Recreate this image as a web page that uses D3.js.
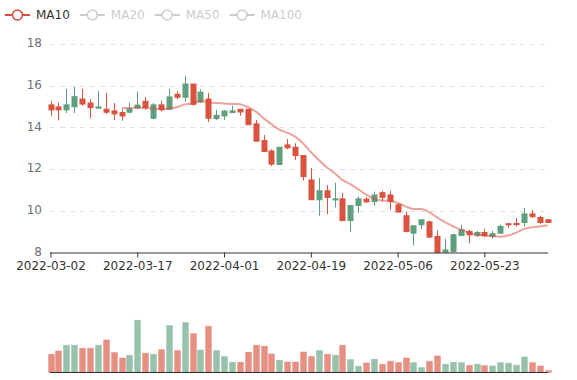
<!DOCTYPE html>
<html>
<head>
<meta charset="utf-8">
<script src="https://cdn.jsdelivr.net/npm/d3@7/dist/d3.min.js"></script>
<style>
	body { margin: 0; background: #fff; }
	svg { font-family: 'DejaVu Sans', sans-serif; display: block; }
</style>
</head>
<body>
<div id="chart"></div>
<script>
// ----------------------------------
// data
// ----------------------------------
const dates = [
	'2022-03-02','2022-03-03','2022-03-04','2022-03-07','2022-03-08','2022-03-09','2022-03-10','2022-03-11',
	'2022-03-14','2022-03-15','2022-03-16','2022-03-17','2022-03-18','2022-03-21','2022-03-22','2022-03-23',
	'2022-03-24','2022-03-25','2022-03-28','2022-03-29','2022-03-30','2022-03-31','2022-04-01','2022-04-04',
	'2022-04-05','2022-04-06','2022-04-07','2022-04-08','2022-04-11','2022-04-12','2022-04-13','2022-04-14',
	'2022-04-18','2022-04-19','2022-04-20','2022-04-21','2022-04-22','2022-04-25','2022-04-26','2022-04-27',
	'2022-04-28','2022-04-29','2022-05-04','2022-05-05','2022-05-06','2022-05-09','2022-05-10','2022-05-11',
	'2022-05-12','2022-05-13','2022-05-16','2022-05-17','2022-05-18','2022-05-19','2022-05-20','2022-05-23',
	'2022-05-24','2022-05-25','2022-05-26','2022-05-27','2022-05-30','2022-05-31','2022-06-01','2022-06-02'
];

const opens = [
	15.08,14.98,14.84,14.99,15.36,15.17,14.92,14.87,14.79,14.71,
	14.73,14.93,15.25,14.44,15.08,14.87,15.59,15.45,16.08,15.22,
	15.36,14.42,14.55,14.71,14.87,14.87,14.17,13.37,12.87,12.22,
	13.16,13.05,12.65,11.48,10.53,10.96,10.53,10.57,9.53,10.25,
	10.56,10.44,10.87,10.76,10.29,9.76,8.93,9.33,9.47,8.77,
	8.02,8.05,8.81,9.01,8.81,8.96,8.77,8.93,9.38,9.39,
	9.44,9.85,9.68,9.57
];

const closes = [
	14.84,14.84,15.08,15.47,15.12,14.95,14.98,14.73,14.65,14.55,
	14.89,15.07,14.95,15.08,14.85,15.46,15.45,16.08,15.11,15.69,
	14.44,14.58,14.78,14.79,14.74,14.13,13.34,12.84,12.24,13.05,
	13.02,12.65,11.64,10.53,10.96,10.64,10.57,9.53,10.25,10.57,
	10.43,10.76,10.65,10.44,9.94,9.01,9.28,9.57,8.74,8.00,
	8.12,8.85,9.09,8.85,8.96,8.80,8.90,9.25,9.33,9.34,
	9.85,9.72,9.44,9.44
];

const highs = [
	15.27,15.19,15.84,15.95,15.84,15.35,15.75,15.65,15.17,14.85,
	15.19,15.73,15.46,15.17,15.28,15.84,15.75,16.47,16.08,15.83,
	15.65,14.84,14.84,15.04,14.87,14.87,14.36,13.63,12.95,13.05,
	13.45,13.24,12.65,12.04,11.57,11.23,11.35,10.85,10.25,10.68,
	10.66,10.92,10.96,10.96,10.37,9.96,9.28,9.57,9.53,9.06,
	8.66,8.90,9.33,9.09,9.04,9.14,9.04,9.33,9.38,9.65,
	10.13,10.05,9.77,9.57
];

const lows = [
	14.56,14.34,14.68,14.68,15.04,14.45,14.92,14.65,14.36,14.32,
	14.68,14.87,14.84,14.39,14.76,14.84,15.35,15.24,15.04,15.16,
	14.25,14.34,14.36,14.71,14.56,14.13,13.34,12.84,12.15,12.20,
	12.95,12.44,11.45,10.53,9.76,9.84,10.16,9.53,8.98,9.89,
	10.37,10.25,10.44,10.05,9.94,8.96,8.34,9.14,8.69,8.00,
	8.00,8.02,8.81,8.45,8.74,8.74,8.66,8.90,9.17,9.25,
	9.25,9.65,9.38,9.44
];

const volumes = [
	18.3,21.6,27.3,27.3,24.3,24.3,27.3,32.6,20.0,14.6,
	17.3,52.3,19.3,18.3,23.0,47.0,22.0,50.0,39.0,22.6,
	46.3,22.0,16.0,10.3,10.3,20.3,27.3,26.3,18.6,12.3,
	10.6,10.6,20.6,16.0,22.0,18.3,17.3,27.3,13.0,6.3,
	9.6,13.3,8.3,11.3,10.0,14.6,10.0,5.0,11.3,16.6,
	8.3,10.3,10.0,7.3,8.3,7.0,6.6,10.0,9.3,7.3,
	15.6,10.0,6.6,2.0
];
// 1 = up (green), -1 = down (red)
const volumeDir = [
	-1,-1,1,1,-1,-1,1,-1,-1,-1,
	1,1,-1,1,-1,1,-1,1,-1,1,
	-1,1,1,1,-1,-1,-1,-1,-1,1,
	-1,-1,-1,-1,1,-1,1,-1,1,1,
	-1,1,-1,-1,-1,-1,1,1,-1,-1,
	1,1,1,-1,1,-1,1,1,1,1,
	1,-1,-1,-1
];

const yTicks = [8, 10, 12, 14, 16, 18];
const legendNames = ['MA10', 'MA20', 'MA50', 'MA100'];
const legendActive = ['MA10'];

// ----------------------------------
// setup
// ----------------------------------
const width = 577,
	height = 380,
	upColor = '#5f9f7e',
	downColor = '#d9533f',
	maColor = '#d94a3d';

const svg = d3.select('#chart')
	.append('svg')
	.attr('width', width)
	.attr('height', height);

const x = d3.scalePoint()
	.domain(dates)
	.range([50.5, 547.5]);

const y = d3.scaleLinear()
	.domain([8, 18])
	.range([252.5, 44]);

const yVol = d3.scaleLinear()
	.domain([0, 55])
	.range([372.5, 317.5]);

// moving average of the closes
function calculateMA(dayCount){
	const result = [];
	for (let i = 0; i < closes.length; i++){
		if (i < dayCount - 1){
			result.push(null);
			continue;
		}
		let sum = 0;
		for (let j = 0; j < dayCount; j++){
			sum += closes[i - j];
		}
		result.push(sum / dayCount);
	}
	return result;
}

// grid lines
svg.append('g')
	.classed('grid', true)
	.selectAll('line')
	.data(yTicks.filter(d => d > 8))
	.enter()
	.append('line')
	.attr('x1', 50)
	.attr('x2', 548)
	.attr('y1', d => Math.round(y(d)) + 0.5)
	.attr('y2', d => Math.round(y(d)) + 0.5)
	.style('stroke', '#e0e0e0')
	.style('stroke-width', 1)
	.style('stroke-dasharray', '5,5');

// y labels
svg.append('g')
	.classed('y-labels', true)
	.selectAll('text')
	.data(yTicks)
	.enter()
	.append('text')
	.attr('x', 42)
	.attr('y', d => y(d) - 1)
	.attr('dy', '0.35em')
	.attr('text-anchor', 'end')
	.style('font-size', '12px')
	.style('fill', '#6e7079')
	.text(d => d);

// clip for the candle grid
svg.append('clipPath')
	.attr('id', 'plot-clip')
	.append('rect')
	.attr('x', 44)
	.attr('y', 40)
	.attr('width', 510)
	.attr('height', 213);

const candles = svg.append('g')
	.classed('candles', true)
	.attr('clip-path', 'url(#plot-clip)');

const bodyWidth = 5;

const candle = candles.selectAll('g')
	.data(dates)
	.enter()
	.append('g');

candle.append('line')
	.attr('x1', d => Math.round(x(d)) + 0.5)
	.attr('x2', d => Math.round(x(d)) + 0.5)
	.attr('y1', (d, i) => y(highs[i]))
	.attr('y2', (d, i) => y(lows[i]))
	.style('stroke', (d, i) => closes[i] >= opens[i] ? upColor : downColor)
	.style('stroke-width', 1);

candle.append('rect')
	.attr('x', d => Math.round(x(d)) + 0.5 - bodyWidth / 2)
	.attr('y', (d, i) => y(Math.max(opens[i], closes[i])))
	.attr('width', bodyWidth)
	.attr('height', (d, i) => Math.max(1, Math.abs(y(opens[i]) - y(closes[i]))))
	.style('fill', (d, i) => closes[i] >= opens[i] ? upColor : downColor)
	.style('stroke', (d, i) => closes[i] >= opens[i] ? upColor : downColor)
	.style('stroke-width', 1);

// MA10 line
const ma10 = calculateMA(10);
const maLine = d3.line()
	.defined(d => d !== null)
	.x((d, i) => x(dates[i]))
	.y(d => y(d))
	.curve(d3.curveMonotoneX);

svg.append('path')
	.classed('ma-line', true)
	.datum(ma10)
	.attr('d', maLine)
	.style('fill', 'none')
	.style('stroke', maColor)
	.style('stroke-width', 2)
	.style('stroke-opacity', 0.5);

// x axis
const xAxis = d3.axisBottom(x)
	.tickValues(dates.filter((d, i) => i % 11 === 0))
	.tickSizeInner(5)
	.tickSizeOuter(0)
	.tickPadding(4);

const xAxisG = svg.append('g')
	.attr('class', 'x axis')
	.attr('transform', 'translate(0,252.5)')
	.call(xAxis);

xAxisG.select('.domain')
	.attr('d', 'M50,0.5H548')
	.style('stroke', '#333');
xAxisG.selectAll('.tick line').style('stroke', '#333');
xAxisG.selectAll('.tick text')
	.style('font-size', '12px')
	.style('font-family', "'DejaVu Sans', sans-serif")
	.style('fill', '#333');

// volume bars
const volWidth = 6;
svg.append('g')
	.classed('volume', true)
	.selectAll('rect')
	.data(volumes)
	.enter()
	.append('rect')
	.attr('x', (d, i) => Math.round(x(dates[i])) + 0.5 - volWidth / 2)
	.attr('y', d => yVol(d))
	.attr('width', volWidth)
	.attr('height', d => yVol(0) - yVol(d))
	.style('fill', (d, i) => volumeDir[i] > 0 ? upColor : downColor)
	.style('fill-opacity', 0.65)
	.style('stroke', (d, i) => volumeDir[i] > 0 ? upColor : downColor)
	.style('stroke-opacity', 0.2)
	.style('stroke-width', 1);

svg.append('line')
	.attr('x1', 50)
	.attr('x2', 548)
	.attr('y1', 372.5)
	.attr('y2', 372.5)
	.style('stroke', '#333')
	.style('stroke-width', 1);

// legend
const legend = svg.append('g').classed('legend', true);
let legendX = 5;
legendNames.forEach(name => {
	const active = legendActive.indexOf(name) > -1;
	const col = active ? maColor : '#ccc';
	const item = legend.append('g')
		.attr('transform', `translate(${legendX},15)`);
	item.append('line')
		.attr('x1', 0)
		.attr('x2', 25)
		.style('stroke', col)
		.style('stroke-width', 2);
	item.append('circle')
		.attr('cx', 12.5)
		.attr('r', 5)
		.style('fill', '#fff')
		.style('stroke', col)
		.style('stroke-width', 1.5);
	const label = item.append('text')
		.attr('x', 31)
		.attr('dy', '0.35em')
		.style('font-size', '12px')
		.style('fill', active ? '#333' : '#ccc')
		.text(name);
	legendX += 31 + label.node().getComputedTextLength() + 10;
});
</script>
</body>
</html>
